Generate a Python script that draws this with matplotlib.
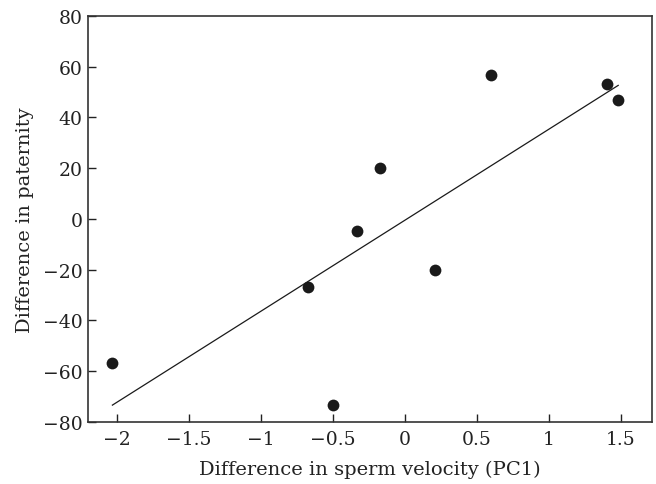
import numpy as np
import matplotlib
matplotlib.use("Agg")
import matplotlib.pyplot as plt

plt.rcParams['font.family'] = ['DejaVu Serif']

# difference in sperm velocity (PC1) vs difference in paternity
velocity = [-2.03, -0.67, -0.50, -0.33, -0.17, 0.21, 0.60, 1.40, 1.48]
paternity = [-56.7, -26.9, -73.2, -4.7, 20.0, -20.0, 56.6, 53.3, 46.8]

x_ticks = [-2, -1.5, -1, -0.5, 0, 0.5, 1, 1.5]
x_labels = ["\u22122", "\u22121.5", "\u22121", "\u22120.5", "0", "0.5", "1", "1.5"]
y_ticks = [-80, -60, -40, -20, 0, 20, 40, 60, 80]
y_labels = ["\u221280", "\u221260", "\u221240", "\u221220", "0", "20", "40", "60", "80"]

fig = plt.figure(figsize=(6.56, 4.85), dpi=100)
ax = fig.add_axes([0.134, 0.128, 0.860, 0.837])

x = np.array(velocity)
y = np.array(paternity)
slope, intercept = np.polyfit(x, y, 1)
xx = np.array([x.min(), x.max()])
ax.plot(xx, slope * xx + intercept, color="#1a1a1a", lw=0.9)
ax.scatter(x, y, s=72, color="#1a1a1a", zorder=3, linewidths=0)

ax.set_xlim(-2.2, 1.715)
ax.set_ylim(-80, 80)
ax.set_xticks(x_ticks)
ax.set_xticklabels(x_labels)
ax.set_yticks(y_ticks)
ax.set_yticklabels(y_labels)
ax.tick_params(direction="in", length=6, width=1, labelsize=13.5, colors="#222222")
ax.tick_params(axis="x", pad=6)
ax.tick_params(axis="y", pad=4)
for s in ax.spines.values():
    s.set_linewidth(1.2)
    s.set_color("#333333")

ax.set_xlabel("Difference in sperm velocity (PC1)", fontsize=14, color="#222222", labelpad=8)
ax.set_ylabel("Difference in paternity", fontsize=14, color="#222222", labelpad=6)

plt.savefig("out.png", dpi=100)
